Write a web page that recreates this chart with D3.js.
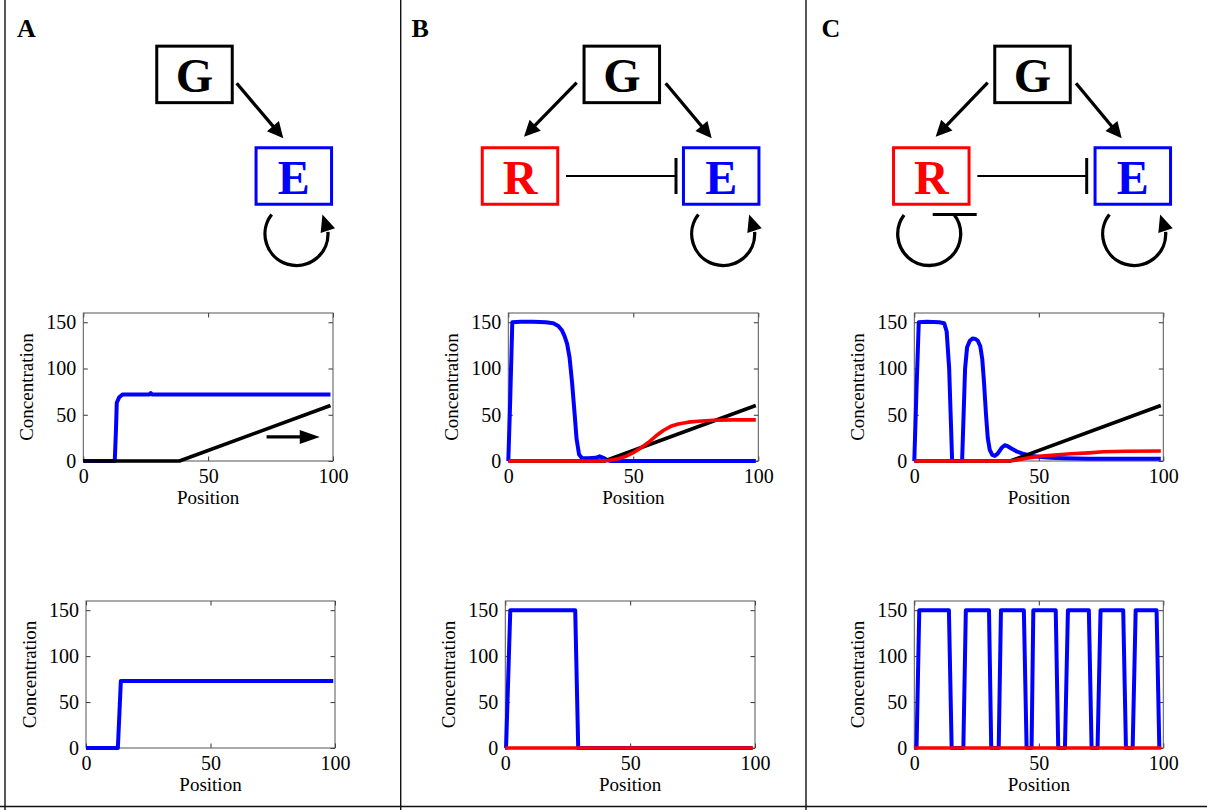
<!DOCTYPE html>
<html><head><meta charset="utf-8">
<script src="https://cdn.jsdelivr.net/npm/d3@7"></script>
<style>
html,body{margin:0;padding:0;background:#fff;}
svg{display:block;}
text{font-family:"Liberation Serif","Times New Roman",serif;}
</style></head>
<body>
<svg id="fig" width="1207" height="810"></svg>
<script>
// ---------- DATA ----------
const xTicks = [0, 50, 100];
const yTicks = [0, 50, 100, 150];
const panelLetters = ["A", "B", "C"];

// gradient G (same in all middle plots)
const gradientG = [[0,0],[38.5,0],[99,60]];

// Panel A
const aMidE = [[0,0],[12.6,0],[13.1,35],[13.4,63],[14.4,69],[15.7,72],[26.5,72],[27,73.5],[27.5,72],[99,72]];
const aBotE = [[0,0],[12.8,0],[14,73],[99.3,73]];
const aArrow = [[73.4,26],[94.7,26]];

// Panel B
const bMidE = [[0,0],[0.7,60],[1.6,150],[5,150.5],[10,150.5],[15,150],[18,149],[20,146],[21.5,141],[22.5,135],[23.5,127],[24.5,112],[25.5,85],[26.5,52],[27.3,24],[28.3,7],[29.5,3],[32,3],[35,3.5],[36.5,5],[38,3.5],[39.5,1],[41,0],[99,0]];
const bMidR = [[0,0],[36,0],[40,0.5],[44,2.5],[47,5],[50,9],[53,14],[56,20],[59,27],[62,33],[65,37.5],[68,40],[72,42],[76,43],[82,44],[90,44.5],[99,44.5]];
const bBotE = [[0,0],[0.3,0],[2,150],[28,150],[29.2,0],[99,0]];
const bBotR = [[0,0],[99.2,0]];

// Panel C
const cMidE = [[0,0],[0.8,70],[1.8,150],[5,150.5],[10,150],[12,149],[13,140],[14,100],[14.6,50],[15.2,0],[19.2,0],[19.8,50],[20.4,100],[21.2,123],[22.3,130],[23.5,132.5],[24.5,132],[25.5,130],[26.5,124],[27.3,110],[28,85],[28.8,50],[29.5,25],[30.3,12],[31.3,6.5],[32.3,5.5],[33.5,8],[35,14],[36.3,17],[37.5,16],[39,13.5],[41,10.5],[44,7.5],[47,5.5],[50,4.5],[55,3.5],[60,3],[70,2.5],[80,2.5],[90,2.5],[99,2.5]];
const cMidR = [[0,0],[37,0],[40,0.5],[45,3],[50,5],[55,6.3],[63,7.8],[70,8.8],[76,10],[85,10.5],[99,10.8]];
const cBotE = [[0,0],[0.9,0],[2,150],[13.9,150],[15,0],[19.7,0],[20.7,150],[30,150],[30.9,0],[33.9,0],[34.8,150],[44,150],[45.1,0],[47.1,0],[47.8,150],[56.8,150],[57.8,0],[60.5,0],[61.7,150],[70.1,150],[71.2,0],[73.6,0],[74.8,150],[83.9,150],[85,0],[87.7,0],[88.9,150],[97.3,150],[98.4,0]];
const cBotR = [[0,0],[99.2,0]];

// ---------- LAYOUT ----------
const svg = d3.select("#fig");
const BLUE = "#0000ff", RED = "#ff0000", BLACK = "#000";

// frame lines
const frame = svg.append("g").attr("stroke", "#111").attr("stroke-width", 1.4);
frame.append("line").attr("x1", 5).attr("x2", 5).attr("y1", 0).attr("y2", 810);
frame.append("line").attr("x1", 400.7).attr("x2", 400.7).attr("y1", 0).attr("y2", 810);
frame.append("line").attr("x1", 806).attr("x2", 806).attr("y1", 0).attr("y2", 810);
frame.append("line").attr("x1", 0).attr("x2", 1207).attr("y1", 806.5).attr("y2", 806.5);

// panel letters
const letterX = [17, 411.5, 821.5];
panelLetters.forEach((L, i) => {
  svg.append("text").attr("x", letterX[i]).attr("y", 37).attr("font-size", 26)
     .attr("font-weight", "bold").text(L);
});

// ---------- PLOTS ----------
function drawPlot(x0, x1, y0, y1, series, arrow) {
  const g = svg.append("g");
  const x = d3.scaleLinear().domain([0, 100]).range([x0, x1]);
  const y = d3.scaleLinear().domain([0, 160]).range([y1, y0]);
  const tk = 4.5;
  const axC = "#555";
  const styleAxis = sel => {
    sel.select(".domain").remove();
    sel.selectAll(".tick line").attr("stroke", "#333").attr("stroke-width", 1);
    sel.selectAll(".tick text").attr("font-family", "Liberation Serif").attr("font-size", 20).attr("fill", "#000");
  };
  g.append("g").attr("transform", `translate(0,${y1})`)
    .call(d3.axisBottom(x).tickValues(xTicks).tickSizeInner(-tk).tickSizeOuter(0).tickPadding(8)).call(styleAxis);
  g.append("g").attr("transform", `translate(0,${y0})`)
    .call(d3.axisTop(x).tickValues(xTicks).tickSizeInner(-tk).tickSizeOuter(0).tickFormat("")).call(styleAxis);
  g.append("g").attr("transform", `translate(${x0},0)`)
    .call(d3.axisLeft(y).tickValues(yTicks).tickSizeInner(-tk).tickSizeOuter(0).tickPadding(7)).call(styleAxis);
  g.append("g").attr("transform", `translate(${x1},0)`)
    .call(d3.axisRight(y).tickValues(yTicks).tickSizeInner(-tk).tickSizeOuter(0).tickFormat("")).call(styleAxis);
  g.append("rect").attr("x", x0).attr("y", y0).attr("width", x1 - x0).attr("height", y1 - y0)
    .attr("fill", "none").attr("stroke", axC).attr("stroke-width", 1);

  const line = d3.line().x(d => x(d[0])).y(d => y(d[1]));
  series.forEach(s => {
    g.append("path").attr("d", line(s.data)).attr("fill", "none")
      .attr("stroke", s.color).attr("stroke-width", s.w).attr("stroke-linejoin", "round");
  });

  if (arrow) {
    const ax0 = x(arrow[0][0]), ax1 = x(arrow[1][0]), ay = y(arrow[0][1]);
    g.append("line").attr("x1", ax0).attr("x2", ax1 - 18).attr("y1", ay).attr("y2", ay)
      .attr("stroke", BLACK).attr("stroke-width", 3.3);
    g.append("path").attr("d", `M${ax1},${ay} L${ax1 - 20},${ay - 7} L${ax1 - 20},${ay + 7} Z`).attr("fill", BLACK);
  }

  g.append("text").attr("x", (x0 + x1) / 2).attr("y", y1 + 43).attr("text-anchor", "middle")
    .attr("font-size", 19).text("Position");
  g.append("text").attr("transform", `translate(${x0 - 50},${(y0 + y1) / 2}) rotate(-90)`)
    .attr("text-anchor", "middle").attr("font-size", 19).text("Concentration");
}

// Panel A
drawPlot(83.3, 333, 313, 461, [
  {data: aMidE, color: BLUE, w: 4},
  {data: gradientG, color: BLACK, w: 3.6}
], aArrow);
drawPlot(86, 335, 601, 748, [
  {data: aBotE, color: BLUE, w: 4}
]);
// Panel B
drawPlot(508.3, 758.3, 313, 461, [
  {data: bMidE, color: BLUE, w: 4},
  {data: gradientG, color: BLACK, w: 3.6},
  {data: bMidR, color: RED, w: 3.6}
]);
drawPlot(505.3, 755, 601, 748, [
  {data: bBotE, color: BLUE, w: 4},
  {data: bBotR, color: RED, w: 3.6}
]);
// Panel C
drawPlot(914.3, 1163.3, 313, 461, [
  {data: cMidE, color: BLUE, w: 4},
  {data: gradientG, color: BLACK, w: 3.6},
  {data: cMidR, color: RED, w: 3.6}
]);
drawPlot(914.3, 1163.3, 601, 748, [
  {data: cBotE, color: BLUE, w: 4},
  {data: cBotR, color: RED, w: 3.6}
]);

// ---------- NETWORK DIAGRAMS ----------
const nodes = [
  {t: "G", c: BLACK, x: 194.5, y: 74.4},
  {t: "E", c: BLUE, x: 293.8, y: 176},
  {t: "G", c: BLACK, x: 621.8, y: 74.4},
  {t: "R", c: RED, x: 520, y: 176},
  {t: "E", c: BLUE, x: 721.2, y: 176},
  {t: "G", c: BLACK, x: 1032.5, y: 74.4},
  {t: "R", c: RED, x: 931.3, y: 176},
  {t: "E", c: BLUE, x: 1132.8, y: 176}
];
const BW = 75.5, BH = 56.5;
const dg = svg.append("g");
nodes.forEach(n => {
  dg.append("rect").attr("x", n.x - BW / 2).attr("y", n.y - BH / 2).attr("width", BW).attr("height", BH)
    .attr("fill", "#fff").attr("stroke", n.c).attr("stroke-width", 3);
  dg.append("text").attr("x", n.x).attr("y", n.y + 18).attr("text-anchor", "middle")
    .attr("font-size", 48).attr("font-weight", "bold").attr("fill", n.c).text(n.t);
});

function arrow(x1, y1, x2, y2) {
  const dx = x2 - x1, dy = y2 - y1, L = Math.hypot(dx, dy);
  const ux = dx / L, uy = dy / L, hl = 16, hw = 7.8;
  const bx = x2 - ux * hl, by = y2 - uy * hl;
  dg.append("line").attr("x1", x1).attr("y1", y1).attr("x2", bx + ux * 2).attr("y2", by + uy * 2)
    .attr("stroke", BLACK).attr("stroke-width", 3.3);
  dg.append("path").attr("d", `M${x2},${y2} L${bx - uy * hw},${by + ux * hw} L${bx + uy * hw},${by - ux * hw} Z`).attr("fill", BLACK);
}
arrow(236.7, 83.3, 283.3, 138.3);
arrow(576.7, 82.7, 524, 136.7);
arrow(665.7, 83.3, 711.7, 138.3);
arrow(987.7, 82.7, 935.7, 136.7);
arrow(1076, 83.3, 1121.7, 138.3);

function inhibit(x1, x2, y) {
  dg.append("line").attr("x1", x1).attr("x2", x2).attr("y1", y).attr("y2", y).attr("stroke", BLACK).attr("stroke-width", 2.2);
  dg.append("line").attr("x1", x2).attr("x2", x2).attr("y1", y - 18).attr("y2", y + 18).attr("stroke", BLACK).attr("stroke-width", 3);
}
inhibit(566, 676, 176);
inhibit(977.3, 1086.7, 176);

const rad = Math.PI / 180;
function pt(cx, cy, r, a) { return [cx + r * Math.cos(a * rad), cy + r * Math.sin(a * rad)]; }
function selfLoop(cx, cy, r) {
  const s = pt(cx, cy, r, -142), e = pt(cx, cy, r, -4);
  dg.append("path").attr("d", `M${s[0]},${s[1]} A${r},${r} 0 1 0 ${e[0]},${e[1]}`)
    .attr("fill", "none").attr("stroke", BLACK).attr("stroke-width", 3.3);
  const b = pt(cx, cy, r, -6), t = pt(cx, cy, r + 1, -37);
  const dx = t[0] - b[0], dy = t[1] - b[1], L = Math.hypot(dx, dy), ux = dx / L, uy = dy / L, hw = 7.6;
  dg.append("path").attr("d", `M${t[0]},${t[1]} L${b[0] - uy * hw},${b[1] + ux * hw} L${b[0] + uy * hw},${b[1] - ux * hw} Z`).attr("fill", BLACK);
}
selfLoop(296.5, 234, 31.5);
selfLoop(723.2, 234, 31.5);
selfLoop(1134.2, 234, 31.5);

// repressor self-inhibition loop (panel C)
(function () {
  const cx = 929.2, cy = 234, r = 31.5;
  const s = pt(cx, cy, r, -143), e = pt(cx, cy, r, -38);
  dg.append("path").attr("d", `M${s[0]},${s[1]} A${r},${r} 0 1 0 ${e[0]},${e[1]}`)
    .attr("fill", "none").attr("stroke", BLACK).attr("stroke-width", 3.3);
  dg.append("line").attr("x1", 932.7).attr("x2", 976.7).attr("y1", 214.5).attr("y2", 214.5)
    .attr("stroke", BLACK).attr("stroke-width", 3);
})();
</script>
</body></html>
